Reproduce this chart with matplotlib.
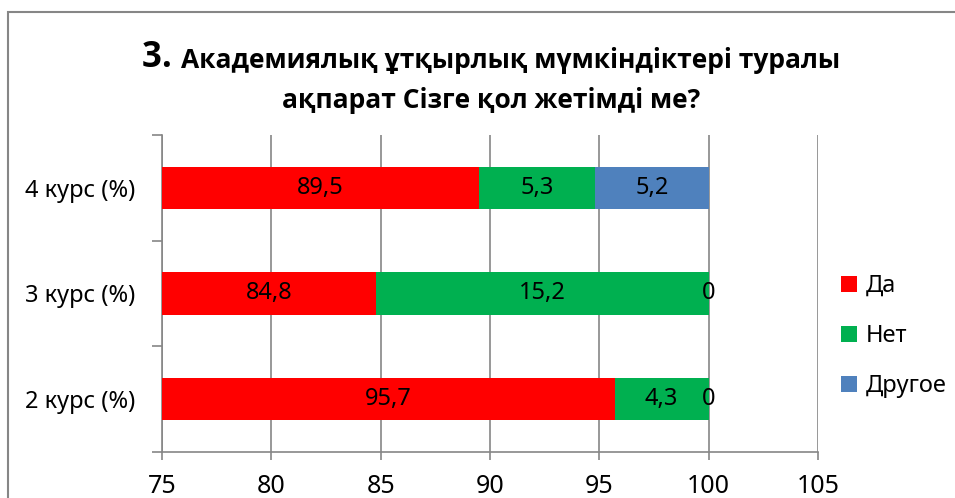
import numpy as np
import matplotlib
matplotlib.use("Agg")
import matplotlib.pyplot as plt
from matplotlib.patches import Rectangle

plt.rcParams['font.family'] = ['Noto Sans', 'DejaVu Sans']

# данные
categories = ['2 курс (%)', '3 курс (%)', '4 курс (%)']
series_names = ['Да', 'Нет', 'Другое']
da = [95.7, 84.8, 89.5]
net = [4.3, 15.2, 5.3]
drugoe = [0, 0, 5.2]
colors = ['#ff0000', '#00b050', '#4f81bd']
labels_txt = [['95,7', '84,8', '89,5'], ['4,3', '15,2', '5,3'], ['0', '0', '5,2']]

x_min, x_max = 75, 105

fig = plt.figure(figsize=(9.55, 4.98), dpi=100)
ax = fig.add_axes([0.1696, 0.0924, 0.6869, 0.6366])

y = np.arange(len(categories))
left = np.zeros(len(categories))
for vals, col, name, txts in zip([da, net, drugoe], colors, series_names, labels_txt):
    vals = np.array(vals)
    ax.barh(y, vals, left=left, height=0.4, color=col, label=name, zorder=3)
    # подпись по центру видимой части сегмента
    for i in range(len(y)):
        a = max(left[i], x_min)
        b = max(left[i] + vals[i], x_min)
        ax.text((a + b) / 2, y[i], txts[i], ha='center', va='center',
                fontsize=17, color='black', zorder=4)
    left = left + vals

ax.set_xlim(x_min, x_max)
ax.set_ylim(-0.5, 2.5)
ax.set_xticks(np.arange(75, 106, 5))
ax.set_yticks(y)
ax.set_yticklabels(categories, fontsize=17)
ax.tick_params(axis='y', length=0, pad=19)
ax.set_yticks([-0.5, 0.5, 1.5, 2.5], minor=True)
ax.tick_params(axis='y', which='minor', length=7, color='#868686', width=1.2, direction='out')
ax.tick_params(axis='x', labelsize=18, length=6, color='#868686', width=1.2, pad=10)
ax.grid(axis='x', color='#868686', linewidth=1.2, zorder=0)
for s in ['top', 'right']:
    ax.spines[s].set_visible(False)
for s in ['left', 'bottom']:
    ax.spines[s].set_color('#868686')
    ax.spines[s].set_linewidth(1.2)

leg = fig.legend(loc='center left', bbox_to_anchor=(0.881, 1 - 336 / 498), frameon=False,
                 fontsize=17, handlelength=0.65, handleheight=0.65, labelspacing=1.1,
                 handletextpad=0.4, borderaxespad=0, borderpad=0)

# рамка диаграммы
fig.add_artist(Rectangle((8 / 955, -0.1), 1.1, 1 - 12 / 498 + 0.1,
                         transform=fig.transFigure, fill=False,
                         edgecolor='#868686', linewidth=1.5, clip_on=False))

# заголовок
tf = ['Open Sans', 'DejaVu Sans']
t2 = fig.text(0.514, 1 - 100 / 498, 'ақпарат Сізге қол жетімді ме?', ha='center',
              va='center', fontsize=19, fontweight='bold', family=tf)
t1 = fig.text(0.5, 1 - 60 / 498, 'Академиялық ұтқырлық мүмкіндіктері туралы',
              ha='left', va='center', fontsize=19, fontweight='bold', family=tf)
t0 = fig.text(0.5, 1 - 58 / 498, '3. ', ha='right', va='center', fontsize=25,
              fontweight='bold', family=tf)
r = fig.canvas.get_renderer()
w1 = t1.get_window_extent(r).width / fig.bbox.width
w0 = t0.get_window_extent(r).width / fig.bbox.width
start = 0.514 - (w0 + w1) / 2
t0.set_x(start + w0)
t1.set_x(start + w0)

fig.savefig('out.png', dpi=100)
